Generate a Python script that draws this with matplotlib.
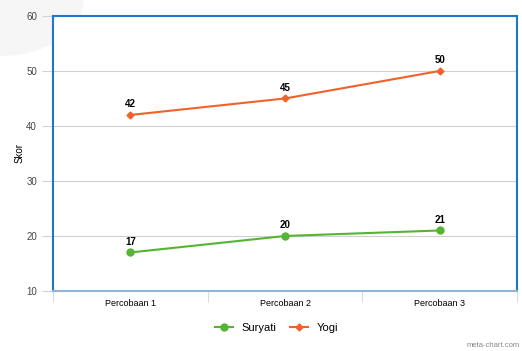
import matplotlib.pyplot as plt
from matplotlib.patches import Ellipse

plt.rcParams['font.family'] = ['Liberation Sans', 'DejaVu Sans']

categories = ['Percobaan 1', 'Percobaan 2', 'Percobaan 3']
suryati = [17, 20, 21]
yogi = [42, 45, 50]

green = '#55b431'
orange = '#f0622a'
border = '#1f77c9'

fig = plt.figure(figsize=(5.22, 3.51), dpi=100)
# faint background blob top-left
fig.patches.append(Ellipse((0.0, 1.0), 0.32, 0.32, transform=fig.transFigure,
                           facecolor='#f6f6f6', edgecolor='none', zorder=0))
ax = fig.add_axes([0.1015, 0.171, 0.889, 0.7835])
ax.set_zorder(2)
ax.set_facecolor('white')

x = range(len(categories))
ax.plot(x, suryati, color=green, lw=1.5, marker='o', ms=5, label='Suryati', zorder=3)
ax.plot(x, yogi, color=orange, lw=1.5, marker='D', ms=3.5, label='Yogi', zorder=3)

for i, v in enumerate(suryati):
    ax.annotate(str(v), (i, v), xytext=(0, 4), textcoords='offset points',
                ha='center', va='bottom', fontsize=7, fontweight='bold')
for i, v in enumerate(yogi):
    ax.annotate(str(v), (i, v), xytext=(0, 4), textcoords='offset points',
                ha='center', va='bottom', fontsize=7, fontweight='bold')

ax.set_xlim(-0.5, 2.5)
ax.set_ylim(10, 60)
ax.set_yticks([10, 20, 30, 40, 50, 60])
ax.yaxis.grid(True, color='#d0d0d0', lw=0.8)
ax.set_axisbelow(True)

ax.set_xticks(x)
ax.set_xticklabels(categories)
ax.set_xticks([-0.5, 0.5, 1.5, 2.5], minor=True)
ax.tick_params(axis='x', which='major', length=0, labelsize=6.5, pad=6)
ax.tick_params(axis='x', which='minor', length=8, color='#c8d4e0', direction='out')
ax.tick_params(axis='y', length=8, color='#c8d4e0', labelsize=7, labelcolor='#444444')

for s in ['top', 'left', 'right']:
    ax.spines[s].set_color(border)
    ax.spines[s].set_linewidth(1.5)
ax.spines['bottom'].set_color('#8fb4d8')
ax.spines['bottom'].set_linewidth(1.5)

ax.set_ylabel('Skor', fontsize=7, labelpad=1)

fig.legend(loc='center', bbox_to_anchor=(0.53, 0.065), ncol=2, frameon=False,
           fontsize=8, handlelength=1.6, columnspacing=1.2)
fig.text(0.995, 0.005, 'meta-chart.com', ha='right', va='bottom', fontsize=5.5, color='#888888')

fig.savefig('out.png', dpi=100)
